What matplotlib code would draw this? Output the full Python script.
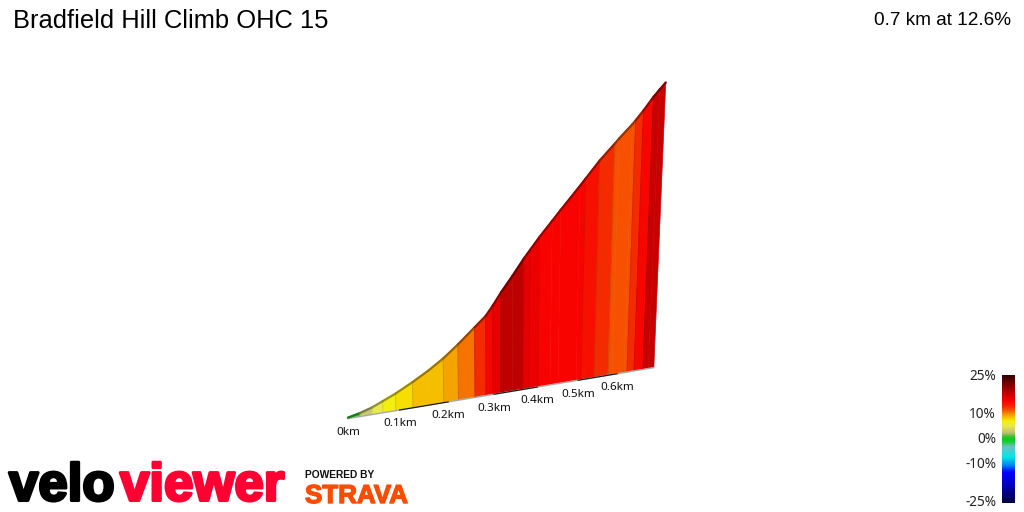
import numpy as np
import matplotlib
matplotlib.use("Agg")
import matplotlib.pyplot as plt
from matplotlib.colors import LinearSegmentedColormap, Normalize
import matplotlib.patheffects as pe

TITLE = "Bradfield Hill Climb OHC 15"
SUMMARY = "0.7 km at 12.6%"

# distance along the climb (km) and elevation gained (m)
distance_km = [0, .0227, .0458, .067, .0926, .1271, .16, .1908, .222, .2579, .2821, .2978, .3158,
               .3412, .3664, .3805, .4018, .4305, .45, .4946, .5071, .5401, .5764, .5868, .6186,
               .6267, .6456, .67, .685, .70]
elevation_m = [.3, 1.1, 2.2, 3.6, 5.3, 8.0, 10.8, 13.8, 17.4, 21.9, 24.9, 27.8, 31.5,
               36.1, 40.9, 43.3, 46.9, 51.3, 54.3, 60.9, 62.8, 67.8, 72.4, 73.8, 77.6,
               78.7, 81.4, 85.2, 87.2, 89.1]
# gradient (%) of each interval between consecutive distances
grade_pct = [.5, 3, 5, 6.5, 7.5, 8.5, 8.5, 9.3, 10.5, 12.5, 14.5, 16, 18,
             18, 16, 15.5, 14.8, 14.8, 14.8, 14.8, 14, 12.5, 11.5, 11.5, 11.5,
             12.5, 14.5, 17.5, 17.5]
tick_km = [0, .1, .2, .3, .4, .5, .6]
tick_labels = ["0km", "0.1km", "0.2km", "0.3km", "0.4km", "0.5km", "0.6km"]
scale_ticks = [25, 10, 0, -10, -25]
scale_labels = ["25%", "10%", "0%", "-10%", "-25%"]

cmap_grades = [-25, -18, -13, -10, -7, -3, -1, 0, 1, 2.5, 5, 7, 9, 11, 13, 15, 18, 22, 25]
cmap_colors = ["#00003c", "#0000c0", "#0000ff", "#0090f0", "#00e8e8", "#70c0c0", "#10d030", "#10c820",
               "#40c030", "#c0c070", "#e8e850", "#f5f000", "#f5b000", "#f56000", "#f52000", "#f80000",
               "#c00000", "#700000", "#300000"]
norm = Normalize(-25, 25)
cmap = LinearSegmentedColormap.from_list(
    "grade", [(norm(g), c) for g, c in zip(cmap_grades, cmap_colors)], N=256)


def project(d, e):
    """Perspective from (km, m) to screen pixels."""
    d = np.asarray(d, float)
    e = np.asarray(e, float)
    x0 = 348 + 532 * d / (1 + .311 * d)
    y0 = 418 - (x0 - 348) / 6
    h = e * 3.2
    return x0 + (x0 - 499) / 3700 * h, y0 - h


plt.rcParams["font.family"] = ["Liberation Sans", "DejaVu Sans"]
fig = plt.figure(figsize=(10.24, 5.12), dpi=100)
ax = fig.add_axes([0, 0, 1, 1])

d = np.array(distance_km)
e = np.array(elevation_m)
xb, yb = project(d, 0 * e)
xt, yt = project(d, e)

for i, g in enumerate(grade_pct):
    col = cmap(norm(g))
    ax.fill([xb[i], xb[i + 1], xt[i + 1], xt[i]], [yb[i], yb[i + 1], yt[i + 1], yt[i]],
            facecolor=col, edgecolor=col, linewidth=.4, zorder=2)
    dark = tuple(c * .62 for c in col[:3])
    ax.plot([xt[i], xt[i + 1]], [yt[i] + .6, yt[i + 1] + .6], color=dark, lw=1.6,
            solid_capstyle="round", zorder=4)
    if i and grade_pct[i - 1] != g:
        ax.plot([xb[i], xt[i]], [yb[i], yt[i]], color=tuple(c * .88 for c in col[:3]),
                lw=.7, zorder=3)

# base line, alternate kilometre ticks in black
ax.plot(xb, yb + .6, color="#a8a8a8", lw=1, zorder=3)
ticks = np.array(tick_km + [.7])
tx, ty = project(ticks, 0 * ticks)
for i in range(1, len(tick_km), 2):
    ax.plot(tx[i:i + 2], ty[i:i + 2] + .6, color="#151515", lw=.8, zorder=3)
ax.plot([xb[-1], xt[-1]], [yb[-1], yt[-1]], color="#e8b8b8", lw=.7, zorder=1)

for x, y, s in zip(tx, ty, tick_labels):
    ax.text(x + .5, y + 14.5, s, ha="center", va="center", fontsize=8.4, family="Noto Sans", color="#111111")

ax.text(13, 28, TITLE, fontsize=18.4, color="black", ha="left", va="baseline")
ax.text(1011, 25, SUMMARY, fontsize=13.7, color="black", ha="right", va="baseline")

# gradient scale
grad = np.linspace(25, -25, 256).reshape(-1, 1)
ax.imshow(grad, cmap=cmap, norm=norm, extent=(1002, 1015, 503, 375), aspect="auto", zorder=2)
for g, s in zip(scale_ticks, scale_labels):
    y = 439.5 - g * 2.54
    ax.text(996, y, s, ha="right", va="center", fontsize=9.8, family="Noto Sans", color="#222222")

# logos as text
ax.text(9, 500.5, "velo", fontsize=38, fontweight="bold", color="black", ha="left", va="baseline",
        path_effects=[pe.withStroke(linewidth=2.2, foreground="black")])
ax.text(284, 500.5, "viewer", fontsize=38, fontweight="bold", color="#ff0033", ha="right", va="baseline",
        path_effects=[pe.withStroke(linewidth=2.2, foreground="#ff0033")])
ax.text(305, 478, "POWERED BY", fontsize=7.4, fontweight="bold", color="#111111", ha="left", va="baseline")
ax.text(305, 503, "STRAVA", fontsize=18.7, fontweight="bold", color="#fc4c02", ha="left", va="baseline",
        path_effects=[pe.withStroke(linewidth=1, foreground="#fc4c02")])

ax.set_xlim(0, 1024)
ax.set_ylim(512, 0)
ax.axis("off")
fig.savefig("out.png", dpi=100)
